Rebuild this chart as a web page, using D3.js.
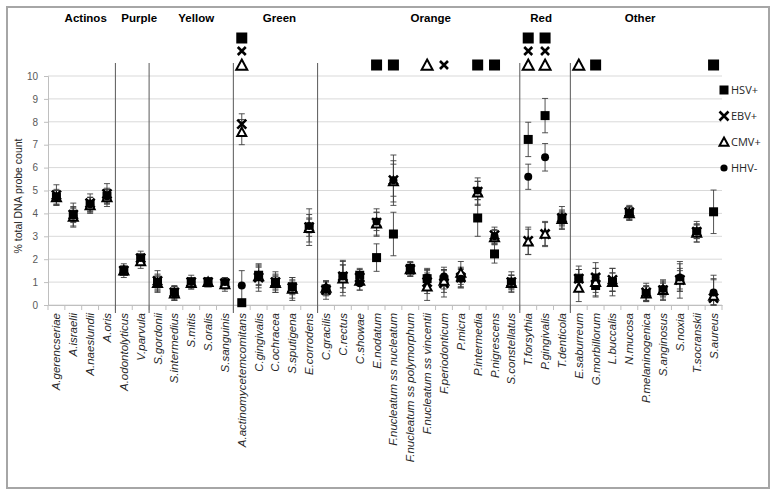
<!DOCTYPE html>
<html><head><meta charset="utf-8">
<script src="https://cdn.jsdelivr.net/npm/d3@7"></script>
<style>body{margin:0;background:#fff}svg{display:block}</style>
</head><body>
<script>
const categories = ["A.gerencseriae","A.israelii","A.naeslundii","A.oris","A.odontolyticus","V.parvula","S.gordonii","S.intermedius","S.mitis","S.oralis","S.sanguinis","A.actinomycetemcomitans","C.gingivalis","C.ochracea","S.sputigena","E.corrodens","C.gracilis","C.rectus","C.showae","E.nodatum","F.nucleatum ss nucleatum","F.nucleatum ss polymorphum","F.nucleatum ss vincentii","F.periodonticum","P.micra","P.intermedia","P.nigrescens","S.constellatus","T.forsythia","P.gingivalis","T.denticola","E.saburreum","G.morbillorum","L.buccalis","N.mucosa","P.melaninogenica","S.anginosus","S.noxia","T.socranskii","S.aureus"];
const groupNames = ["Actinos","Purple","Yellow","Green","Orange","Red","Other"];
const groupSizes = [4,2,5,5,12,3,9];
const hsv = [4.7,3.95,4.4,4.75,1.5,2.0,1.0,0.55,1.0,1.0,0.95,0.1,1.3,1.0,0.8,3.4,0.7,1.25,1.3,2.07,3.1,1.6,1.15,1.1,1.2,3.8,2.23,1.0,7.23,8.27,3.8,1.15,0.85,1.0,4.0,0.5,0.65,1.1,3.2,4.07];
const ebv = [4.8,3.95,4.45,4.85,1.5,2.05,1.05,0.55,1.0,1.0,0.95,7.9,1.2,1.0,0.75,3.4,0.65,1.25,1.2,3.6,5.45,1.55,1.0,0.95,1.2,4.95,3.05,1.0,2.8,3.1,3.8,1.15,1.2,1.1,4.05,0.55,0.65,1.1,3.2,0.3];
const cmv = [4.7,3.85,4.35,4.7,1.5,1.9,0.95,0.5,0.95,1.0,0.9,7.55,1.25,0.95,0.7,3.35,0.75,1.15,1.05,3.55,5.4,1.55,0.8,1.05,1.4,4.9,2.95,0.95,2.76,3.1,3.75,0.75,1.0,1.0,4.0,0.5,0.65,1.1,3.15,0.4];
const hhv = [4.7,3.9,4.4,4.75,1.5,2.05,0.95,0.5,1.0,1.0,1.0,0.85,1.25,0.95,0.75,3.45,0.75,1.25,0.95,3.65,5.45,1.55,1.2,1.25,1.15,5.0,3.0,1.0,5.6,6.45,3.75,1.15,1.2,1.0,4.0,0.5,0.7,1.2,3.2,0.55];
const hsvErr = [0.3,0.3,0.3,0.3,0.2,0.2,0.3,0.25,0.2,0.2,0.2,0.1,0.4,0.3,0.3,0.4,0.3,0.5,0.3,0.6,0.95,0.3,0.4,0.4,0.4,0.8,0.4,0.3,0.75,0.75,0.3,0.4,0.5,0.4,0.3,0.3,0.3,0.4,0.3,0.95];
const ebvErr = [0.45,0.5,0.4,0.45,0.2,0.3,0.45,0.3,0.3,0.2,0.25,0.45,0.6,0.45,0.45,0.8,0.4,0.7,0.35,0.6,1.1,0.3,0.5,0.6,0.45,0.6,0.35,0.45,0.6,0.55,0.5,0.55,0.65,0.5,0.3,0.4,0.45,0.5,0.45,0.8];
const cmvErr = [0.35,0.45,0.35,0.4,0.3,0.3,0.4,0.3,0.25,0.2,0.3,0.55,0.5,0.4,0.5,0.6,0.3,0.75,0.4,0.5,0.9,0.3,0.6,0.5,0.5,0.5,0.3,0.35,0.55,0.5,0.4,0.6,0.6,0.6,0.3,0.35,0.4,0.8,0.4,0.9];
const hhvErr = [0.3,0.3,0.3,0.3,0.2,0.2,0.3,0.3,0.2,0.2,0.2,0.65,0.4,0.3,0.3,0.3,0.3,0.5,0.3,0.4,0.7,0.2,0.4,0.4,0.4,0.4,0.3,0.3,0.55,0.6,0.3,0.4,0.4,0.4,0.25,0.3,0.3,0.6,0.3,0.6];
const sigHSV = ["A.actinomycetemcomitans","E.nodatum","F.nucleatum ss nucleatum","P.intermedia","P.nigrescens","T.forsythia","P.gingivalis","G.morbillorum","S.aureus"];
const sigEBV = ["A.actinomycetemcomitans","F.periodonticum","T.forsythia","P.gingivalis"];
const sigCMV = ["A.actinomycetemcomitans","F.nucleatum ss vincentii","T.forsythia","P.gingivalis","E.saburreum"];
const yTicks = [0,1,2,3,4,5,6,7,8,9,10];
const seriesNames = ["HSV+","EBV+","CMV+","HHV-"];

const W = 777, H = 497;
const svg = d3.select("body").append("svg").attr("width", W).attr("height", H);
svg.append("rect").attr("x",7).attr("y",7).attr("width",762).attr("height",481)
  .attr("fill","#fff").attr("stroke","#a6a6a6").attr("stroke-width",2);

const x = d3.scaleBand().domain(categories).range([48, 722]);
const y = d3.scaleLinear().domain([0,10]).range([305, 76]);
const font = "Liberation Sans, Arial, sans-serif";

// grid
svg.append("g").selectAll("line").data(yTicks).join("line")
  .attr("x1",48).attr("x2",722).attr("y1",d=>y(d)).attr("y2",d=>y(d))
  .attr("stroke","#d9d9d9").attr("stroke-width",1);

// y axis
const ya = svg.append("g").attr("transform","translate(48,0)")
  .call(d3.axisLeft(y).tickValues(yTicks).tickSize(4).tickPadding(6));
ya.select(".domain").attr("stroke","#bfbfbf");
ya.selectAll(".tick line").attr("stroke","#bfbfbf");
ya.selectAll("text").attr("font-family",font).attr("font-size",10).attr("fill","#595959");

// x axis
const xa = svg.append("g").attr("transform","translate(0,305)")
  .call(d3.axisBottom(x).tickSize(0).tickFormat(""));
xa.select(".domain").attr("stroke","#bfbfbf");
svg.append("g").selectAll("line").data(categories.concat(["__end"])).join("line")
  .attr("x1",(d,i)=>48+i*x.step()).attr("x2",(d,i)=>48+i*x.step())
  .attr("y1",305).attr("y2",310).attr("stroke","#bfbfbf");

// x labels
svg.append("g").selectAll("text").data(categories).join("text")
  .attr("transform",d=>`translate(${x(d)+x.bandwidth()/2+4},313) rotate(-90)`)
  .attr("text-anchor","end").attr("font-family",font).attr("font-size",11.5)
  .attr("font-style","italic").attr("fill","#262626").text(d=>d);

// y title
svg.append("text").attr("transform","translate(22,196) rotate(-90)")
  .attr("text-anchor","middle").attr("font-family",font).attr("font-size",10.5)
  .attr("fill","#262626").text("% total DNA probe count");

// group separators and labels
let start = 0;
const bounds = [];
groupSizes.forEach((s,i)=>{ bounds.push([start, start+s]); start += s; });
bounds.forEach((b,i)=>{
  const x0 = x(categories[b[0]]);
  const x1 = b[1] < categories.length ? x(categories[b[1]]) : 722;
  if (i>0) svg.append("line").attr("x1",x0).attr("x2",x0).attr("y1",63).attr("y2",313)
     .attr("stroke","#595959").attr("stroke-width",1);
  const offs = [4,7,5,4,12,-4,-6];
  svg.append("text").attr("x",(x0+x1)/2+offs[i]).attr("y",22).attr("text-anchor","middle")
    .attr("font-family",font).attr("font-size",11.5).attr("font-weight","bold").attr("fill","#000")
    .text(groupNames[groupNames.length? i:0]);
});

// marker drawing
function drawMarker(g, type, cx, cy, s) {
  if (type===0) g.append("rect").attr("x",cx-s/2).attr("y",cy-s/2).attr("width",s).attr("height",s).attr("fill","#000");
  else if (type===1) {
    const h = s/2;
    g.append("path").attr("d",`M${cx-h},${cy-h}L${cx+h},${cy+h}M${cx-h},${cy+h}L${cx+h},${cy-h}`)
      .attr("stroke","#000").attr("stroke-width",2.6).attr("fill","none");
  } else if (type===2) {
    const h = s/2;
    g.append("path").attr("d",`M${cx},${cy-h}L${cx+h},${cy+h*0.85}L${cx-h},${cy+h*0.85}Z`)
      .attr("stroke","#000").attr("stroke-width",2).attr("fill","#fff");
  } else {
    g.append("circle").attr("cx",cx).attr("cy",cy).attr("r",s/2*0.8).attr("fill","#000");
  }
}

const series = [[hsv,hsvErr],[ebv,ebvErr],[cmv,cmvErr],[hhv,hhvErr]];
const eg = svg.append("g");
series.forEach(([vals,errs])=>{
  vals.forEach((v,i)=>{
    const cx = x(categories[i]) + x.bandwidth()/2;
    const e = errs[i];
    eg.append("path").attr("d",`M${cx},${y(v+e)}V${y(Math.max(0,v-e))}M${cx-3},${y(v+e)}H${cx+3}M${cx-3},${y(Math.max(0,v-e))}H${cx+3}`)
      .attr("stroke","#404040").attr("stroke-width",0.9).attr("fill","none");
  });
});
const mg = svg.append("g");
series.forEach(([vals],k)=>{
  vals.forEach((v,i)=>{
    const cx = x(categories[i]) + x.bandwidth()/2;
    drawMarker(mg, k, cx, y(v), k===3 ? 10 : 9);
  });
});

// significance markers
const sg = svg.append("g");
categories.forEach((c,i)=>{
  const cx = x(c) + x.bandwidth()/2;
  let row = 0;
  const rowsY = [65,51,38];
  if (sigCMV.includes(c)) { drawMarker(sg,2,cx,rowsY[row],11); row++; }
  if (sigEBV.includes(c)) { drawMarker(sg,1,cx,rowsY[row],8); row++; }
  if (sigHSV.includes(c)) { drawMarker(sg,0,cx,rowsY[row],11); row++; }
});

// legend
const lg = svg.append("g");
seriesNames.forEach((n,k)=>{
  const ly = 90 + k*26;
  drawMarker(lg, k, 724, ly, k===3?9:9);
  lg.append("text").attr("x",731).attr("y",ly+4).attr("font-family","Open Sans, sans-serif")
    .attr("font-size",11).attr("fill","#262626").text(n);
});
</script>
</body></html>
